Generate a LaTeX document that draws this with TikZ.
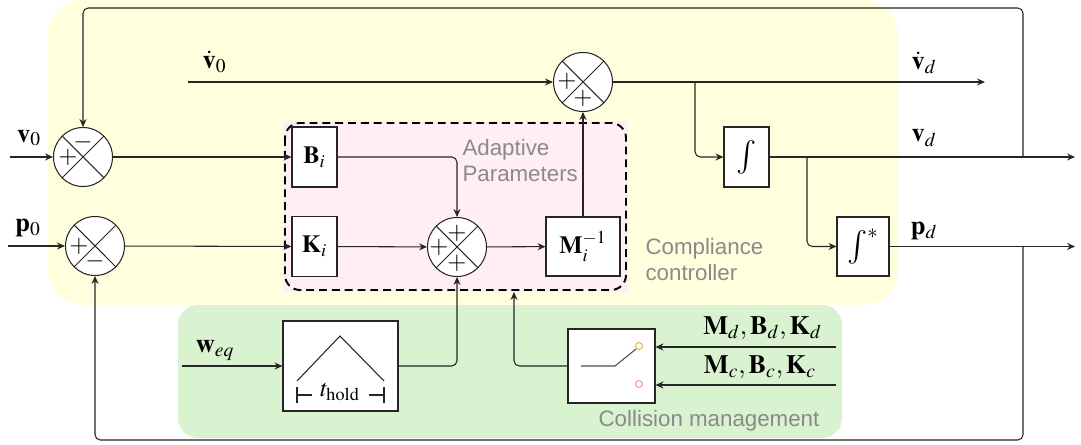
\documentclass[tikz,border=0pt]{standalone}
\usepackage{mathptmx}
\usepackage{exscale}
\usepackage[no-math]{fontspec}
\usepackage{tikz}
\usetikzlibrary{arrows.meta}
\newfontfamily\notefont{Liberation Sans}
\DeclareSymbolFont{cmlarge}{OMX}{cmex}{m}{n}
\DeclareMathSymbol{\cmint}{\mathop}{cmlarge}{"52}
\def\sumsize{1.18cm}
\definecolor{ccyellow}{HTML}{FFFFDE}
\definecolor{cmgreen}{HTML}{D9F2D0}
\definecolor{appink}{HTML}{FFEEF3}
\definecolor{notegray}{HTML}{8A8A8A}
\definecolor{swyellow}{HTML}{E8B84A}
\definecolor{swpink}{HTML}{F391B5}

\begin{document}
\begin{tikzpicture}[x=0.02cm,y=-0.02cm,>={Stealth[length=4.5pt,width=4pt]},line width=0.6pt,draw=black!85]
                \tikzstyle{sum}=[circle,draw,fill=white,minimum size=\sumsize,inner sep=0pt,
                    path picture={\draw (path picture bounding box.north west) -- (path picture bounding box.south east)
                                        (path picture bounding box.south west) -- (path picture bounding box.north east);}]
                \tikzstyle{block}=[rectangle,draw,fill=white,inner sep=0pt,font=\fontsize{14}{16}\selectfont]
                \tikzstyle{integ}=[block,font=\fontsize{16}{18}\selectfont]
                \tikzstyle{sign}=[inner sep=0pt,font=\fontsize{14}{14}\selectfont]
                \tikzstyle{signal}=[inner sep=0pt,font=\fontsize{15}{17}\selectfont]
                \tikzstyle{note}=[inner sep=0pt,text=notegray,font=\notefont\fontsize{12.7}{14.8}\selectfont,align=left]
                \tikzstyle{wire}=[->,rounded corners=3pt]

                \useasboundingbox (0,0) rectangle (1081,445);

                % Draw the shaded regions
                \fill[cmgreen,rounded corners=0.4cm] (178,305) rectangle (842,438);
                \fill[ccyellow,rounded corners=0.7cm] (48,0) rectangle (898,305);
                \fill[appink] (283,121) rectangle (628,292);
                \draw[black,line width=1.1pt,dash pattern=on 4.5pt off 2.8pt,rounded corners=0.3cm] (285,123) rectangle (626,290);

                % Draw the summing junctions
                \node[sum] (S1) at (83,157) {};
                \node[sum] (S2) at (95,246) {};
                \node[sum] (S3) at (457,247) {};
                \node[sum] (S4) at (583,82) {};
                \foreach \s/\dx/\dy/\sg [count=\i] in {S1/-15/0/+,S1/0/-15/-,S2/-16/0/+,S2/0/15/-,
                                                      S3/-18/0/+,S3/0/-14/+,S3/0/16/+,S4/-16/-1/+,S4/0/16/+}
                    \node[sign] (sg\i) at ([shift={(\dx,\dy)}]\s.center) {$\sg$};

                % Draw the blocks
                \node[block,minimum width=0.9cm,minimum height=1.2cm] (B) at (314.5,157) {$\mathbf{B}_i$};
                \node[block,minimum width=0.9cm,minimum height=1.2cm] (K) at (314.5,246.5) {$\mathbf{K}_i$};
                \node[block,minimum width=1.48cm,minimum height=1.18cm] (M) at (583,246.5) {$\mathbf{M}_i^{-1}$};
                \node[integ,minimum width=0.9cm,minimum height=1.2cm] (I1) at (746.5,157) {$\cmint$};
                \node[integ,minimum width=1.04cm,minimum height=1.18cm] (I2) at (863,246.5) {$\cmint^*$};
                \node[block,minimum width=2.3cm,minimum height=1.8cm] (H) at (340.5,366) {};
                \node[block,minimum width=1.74cm,minimum height=1.48cm] (C) at (611.5,366) {};

                % Hold profile
                \draw (297,381) -- (340,336) -- (384,381);
                \node[inner sep=0pt,font=\fontsize{14}{16}\selectfont] (th) at (340,392) {$t_{\mathrm{hold}}$};
                \draw (297,387) -- (297,403) (297,395) -- (312,395);
                \draw (369,395) -- (384,395) (384,387) -- (384,403);

                % Switch
                \draw[black!70] (581,366) -- (615,366) -- (636,349);
                \draw[swyellow] (639,346) circle (0.07cm);
                \draw[swpink] (639,384) circle (0.07cm);

                % Free ends of the signals
                \coordinate (v0in) at (10,157);
                \coordinate (p0in) at (8,246);
                \coordinate (dv0in) at (188,82);
                \coordinate (dvdout) at (985,82);
                \coordinate (vdout) at (1075,157);
                \coordinate (pdout) at (1075,246.5);
                \coordinate (weqin) at (182,366);
                \coordinate (Mdin) at (836,347);
                \coordinate (Mcin) at (836,385);
                \coordinate (br1) at (695,82);
                \coordinate (br2) at (807,157);
                \coordinate (fbv) at (1023,157);
                \coordinate (fbp) at (1023,246.5);
                \coordinate (pin) at (514,292);

                % Connect the nodes
                \draw[->] (v0in) -- (S1);
                \draw[->] (p0in) -- (S2);
                \draw[->] (S1) -- (B);
                \draw[->] (S2) -- (K);
                \draw[wire] (B) -| (S3);
                \draw[->] (K) -- (S3);
                \draw[->] (S3) -- (M);
                \draw[->] (M) -- (S4);
                \draw[->] (dv0in) -- (S4);
                \draw[->] (S4) -- (dvdout);
                \draw[wire] (br1) |- (I1);
                \draw[->] (I1) -- (vdout);
                \draw[wire] (br2) |- (I2);
                \draw[->] (I2) -- (pdout);
                \draw[wire] (fbv) -- ++(0,-149) -| (S1);
                \draw[wire] (fbp) -- ++(0,193.5) -| (S2);
                \draw[->] (weqin) -- (H);
                \draw[wire] (H) -| (S3);
                \draw[->] (Mdin) -- (Mdin -| C.east);
                \draw[->] (Mcin) -- (Mcin -| C.east);
                \draw[wire] (C) -| (pin);

                % Annotate the signals
                \node[signal] (lv0) at (29,138) {$\mathbf{v}_0$};
                \node[signal] (lp0) at (28,228) {$\mathbf{p}_0$};
                \node[signal] (ldv0) at (214.5,62) {$\dot{\mathbf{v}}_0$};
                \node[signal] (ldvd) at (924,63) {$\dot{\mathbf{v}}_d$};
                \node[signal] (lvd) at (924,138) {$\mathbf{v}_d$};
                \node[signal] (lpd) at (924,231) {$\mathbf{p}_d$};
                \node[signal] (lweq) at (215,350) {$\mathbf{w}_{eq}$};
                \node[signal] (lMd) at (762.5,328) {$\mathbf{M}_d,\mathbf{B}_d,\mathbf{K}_d$};
                \node[signal] (lMc) at (760,367) {$\mathbf{M}_c,\mathbf{B}_c,\mathbf{K}_c$};

                % Annotate the regions
                \node[note,anchor=west] (adp) at (462,161) {Adaptive\\Parameters};
                \node[note,anchor=west] (cmp) at (645,260) {Compliance\\controller};
                \node[note] (col) at (709,421) {Collision management};
            \end{tikzpicture}
\end{document}
